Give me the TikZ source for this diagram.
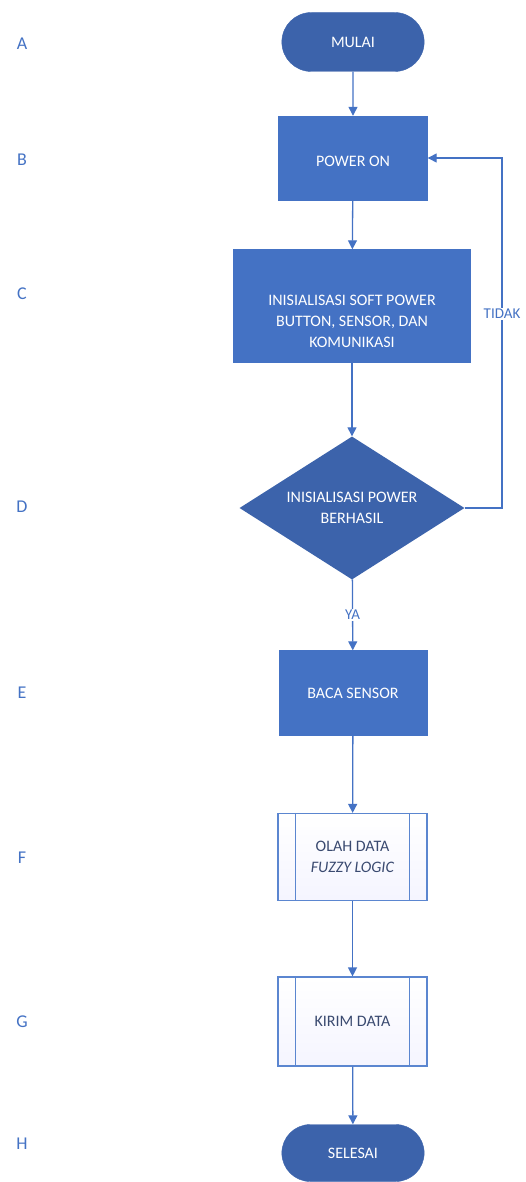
\documentclass[tikz,border=0pt]{standalone}
\usepackage{fontspec}
\setmainfont{Carlito}
\usetikzlibrary{shapes.geometric,shapes.misc,arrows.meta,shadings}
\definecolor{dblue}{HTML}{3C63AB}
\definecolor{mblue}{HTML}{4472C4}
\definecolor{lblue}{HTML}{5B86D0}
\definecolor{ptext}{HTML}{3A4A70}
\tikzset{
  term/.style={rounded rectangle, fill=dblue, draw=dblue, minimum width=149pt, minimum height=59pt, text=white, font=\fontsize{16}{18}\selectfont},
  proc/.style={rectangle, fill=mblue, draw=mblue, text=white, font=\fontsize{16}{21}\selectfont, align=center},
  pre/.style={rectangle, top color=white, bottom color=blue!4, draw=lblue, line width=1.2pt, text=ptext, font=\fontsize{16}{21}\selectfont, align=center, minimum width=149pt, minimum height=87pt},
  dec/.style={diamond, aspect=1.57, fill=dblue, text=white, font=\fontsize{16}{21}\selectfont, align=center, inner sep=0pt, minimum width=225pt, minimum height=143pt},
  conn/.style={draw=mblue, line width=1.3pt, -{Triangle[length=9pt,width=9pt]}},
  lbl/.style={text=mblue, font=\fontsize{18}{20}\selectfont},
  elbl/.style={text=mblue, font=\fontsize{15}{17}\selectfont, fill=white, inner sep=1pt}
}
\begin{document}
\begin{tikzpicture}[x=1pt,y=-1pt]
\useasboundingbox (0,0) rectangle (526,1182);
\node[term] (a) at (353,42) {MULAI};
\node[proc, minimum width=149pt, minimum height=84pt] (b) at (353,158) {\raisebox{-8.5pt}[0pt][0pt]{POWER ON}};
\node[proc, minimum width=237pt, minimum height=113pt] (c) at (352,306) {\raisebox{-21pt}[0pt][0pt]{\begin{tabular}{@{}c@{}}INISIALISASI SOFT POWER\\BUTTON, SENSOR, DAN\\KOMUNIKASI\end{tabular}}};
\node[dec] (d) at (352,508) {INISIALISASI POWER\\BERHASIL};
\node[proc, minimum width=148pt, minimum height=85pt] (e) at (353,693) {BACA SENSOR};
\node[pre] (f) at (352.5,857) {OLAH DATA\\\textit{FUZZY LOGIC}};
\node[pre, minimum height=89pt] (g) at (352.5,1021.5) {KIRIM DATA};
\node[term, minimum height=57pt] (h) at (353,1153) {SELESAI};
\foreach \n in {f,g}{
  \draw[draw=lblue, line width=1.2pt] ([xshift=18pt]\n.north west) -- ([xshift=18pt]\n.south west);
  \draw[draw=lblue, line width=1.2pt] ([xshift=-18pt]\n.north east) -- ([xshift=-18pt]\n.south east);
}
\draw[conn] (a) -- (b);
\draw[conn] (b) -- (c);
\draw[conn] (c) -- (d);
\draw[conn] (d) -- node[elbl, pos=0.5]{YA} (e);
\draw[conn] (e) -- (f);
\draw[conn] (f) -- (g);
\draw[conn] (g) -- (h);
\coordinate (r1) at (502,508);
\coordinate (r2) at (502,158);
\draw[conn] (d.east) -- (r1) -- node[elbl, pos=0.555]{TIDAK} (r2) -- (b.east);
\node[lbl] (la) at (22,44) {A};
\node[lbl] (lb) at (22,160) {B};
\node[lbl] (lc) at (22,294) {C};
\node[lbl] (ld) at (22,507) {D};
\node[lbl] (le) at (22,693) {E};
\node[lbl] (lf) at (22,858) {F};
\node[lbl] (lg) at (22,1022) {G};
\node[lbl] (lh) at (22,1144) {H};
\end{tikzpicture}
\end{document}
